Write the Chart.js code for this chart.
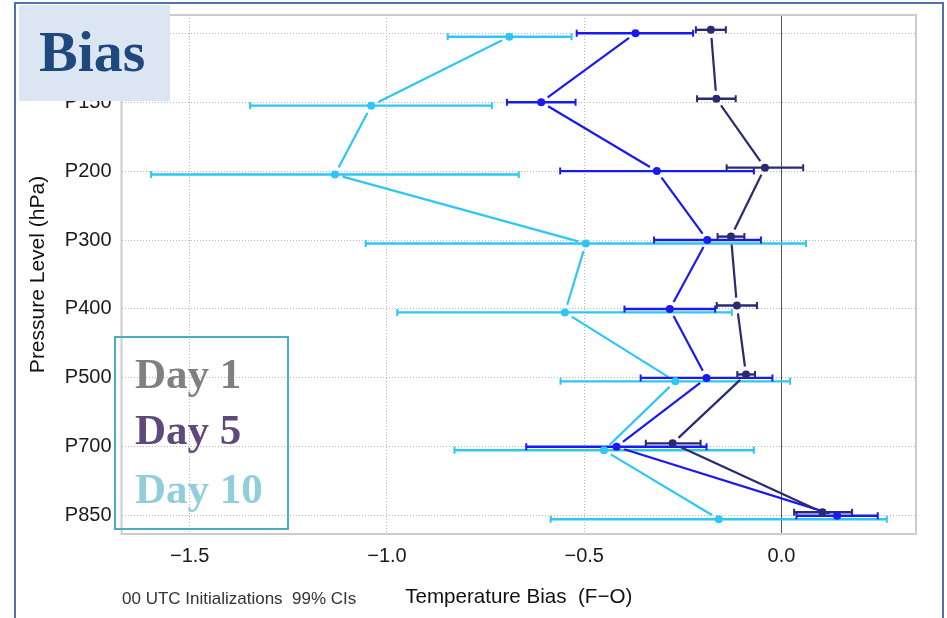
<!DOCTYPE html>
<html>
<head>
<meta charset="utf-8">
<script src="https://cdn.jsdelivr.net/npm/chart.js@4.4.1/dist/chart.umd.min.js"></script>
<style>
    html, body { margin: 0; padding: 0; background: #fff; overflow: hidden; }
    #biasChart { display: block; }
</style>
</head>
<body>
<canvas id="biasChart" width="947" height="618"></canvas>
<script>
// pressure levels (top to bottom)
const levels = ['P100', 'P150', 'P200', 'P300', 'P400', 'P500', 'P700', 'P850'];
const xTicks = [-1.5, -1.0, -0.5, 0.0];

// Day 1
const day1Bias = [-0.179, -0.165, -0.042, -0.128, -0.113, -0.090, -0.276, 0.104];
const day1Lo   = [-0.217, -0.214, -0.139, -0.162, -0.164, -0.112, -0.344, 0.032];
const day1Hi   = [-0.141, -0.116,  0.055, -0.094, -0.062, -0.067, -0.205, 0.179];

// Day 5
const day5Bias = [-0.370, -0.609, -0.316, -0.188, -0.283, -0.190, -0.418, 0.141];
const day5Lo   = [-0.519, -0.696, -0.561, -0.323, -0.398, -0.357, -0.647, 0.038];
const day5Hi   = [-0.224, -0.522, -0.070, -0.052, -0.168, -0.023, -0.190, 0.244];

// Day 10
const day10Bias = [-0.690, -1.040, -1.132, -0.496, -0.549, -0.269, -0.450, -0.159];
const day10Lo   = [-0.846, -1.347, -1.598, -1.054, -0.974, -0.560, -0.829, -0.585];
const day10Hi   = [-0.532, -0.734, -0.666,  0.062, -0.126,  0.022, -0.070,  0.267];

const legendNames = ['Day 1', 'Day 5', 'Day 10'];
const legendColors = ['#808080', '#5f497a', '#92cddc'];

const FONT = '"Liberation Sans", Arial, sans-serif';
const SERIF = '"Liberation Serif", "Times New Roman", serif';

// builds the points; small vertical dodge so the bars don't sit on top of each other
function makePoints(bias, lo, hi, dodge) {
    return bias.map((v, i) => ({ x: v, y: i + dodge, lo: lo[i], hi: hi[i] }));
}

const series = [
    { label: 'Day 10', color: '#2ec6f6', data: makePoints(day10Bias, day10Lo, day10Hi, 0.05) },
    { label: 'Day 5', color: '#1a1af0', data: makePoints(day5Bias, day5Lo, day5Hi, 0) },
    { label: 'Day 1', color: '#2a2a72', data: makePoints(day1Bias, day1Lo, day1Hi, -0.05) }
];

// error bars + connecting lines with a small gap at each point
const errorBarPlugin = {
    id: 'errorBars',
    beforeDatasetsDraw(chart) {
        const ctx = chart.ctx;
        const xs = chart.scales.x;
        const ys = chart.scales.y;
        const area = chart.chartArea;

        ctx.save();
        // zero line
        ctx.strokeStyle = '#555';
        ctx.lineWidth = 1;
        const x0 = Math.round(xs.getPixelForValue(0)) + 0.5;
        ctx.beginPath();
        ctx.moveTo(x0, area.top);
        ctx.lineTo(x0, area.bottom);
        ctx.stroke();

        ctx.lineCap = 'butt';
        series.forEach(s => {
            ctx.strokeStyle = s.color;
            const px = s.data.map(p => ({
                x: xs.getPixelForValue(p.x),
                y: ys.getPixelForValue(p.y),
                lo: xs.getPixelForValue(p.lo),
                hi: xs.getPixelForValue(p.hi)
            }));

            // connecting segments
            ctx.lineWidth = 2.2;
            for (let i = 0; i < px.length - 1; i++) {
                const a = px[i], b = px[i + 1];
                const dx = b.x - a.x, dy = b.y - a.y;
                const len = Math.sqrt(dx * dx + dy * dy);
                const gap = 8;
                if (len <= gap * 2) continue;
                const ux = dx / len, uy = dy / len;
                ctx.beginPath();
                ctx.moveTo(a.x + ux * gap, a.y + uy * gap);
                ctx.lineTo(b.x - ux * gap, b.y - uy * gap);
                ctx.stroke();
            }

            // horizontal bars with caps
            px.forEach(p => {
                ctx.lineWidth = 2.4;
                ctx.beginPath();
                ctx.moveTo(p.lo, p.y);
                ctx.lineTo(p.hi, p.y);
                ctx.stroke();
                ctx.lineWidth = 2;
                ctx.beginPath();
                ctx.moveTo(p.lo, p.y - 3.5);
                ctx.lineTo(p.lo, p.y + 3.5);
                ctx.moveTo(p.hi, p.y - 3.5);
                ctx.lineTo(p.hi, p.y + 3.5);
                ctx.stroke();
            });
        });
        ctx.restore();
    },
    afterDraw(chart) {
        const ctx = chart.ctx;
        const area = chart.chartArea;
        ctx.save();

        // plot frame
        ctx.strokeStyle = '#cccccc';
        ctx.lineWidth = 2;
        ctx.strokeRect(area.left, area.top, area.right - area.left, area.bottom - area.top);

        // "Bias" label box
        ctx.fillStyle = '#dce6f2';
        ctx.fillRect(19, 5, 151, 96);
        ctx.fillStyle = '#1f497d';
        ctx.font = 'bold 58px ' + SERIF;
        ctx.textAlign = 'left';
        ctx.textBaseline = 'alphabetic';
        ctx.fillText('Bias', 39, 71);

        // legend box
        ctx.strokeStyle = '#4bacc6';
        ctx.lineWidth = 2;
        ctx.strokeRect(115, 337, 173, 192);
        ctx.font = 'bold 43px ' + SERIF;
        const baselines = [388, 444, 503];
        legendNames.forEach((name, i) => {
            ctx.fillStyle = legendColors[i];
            ctx.fillText(name, 135, baselines[i]);
        });

        // footer note
        ctx.fillStyle = '#333';
        ctx.font = '17px ' + FONT;
        ctx.textBaseline = 'middle';
        ctx.fillText('00 UTC Initializations  99% CIs', 122, 599);

        // outer frame
        ctx.strokeStyle = '#4f72a8';
        ctx.lineWidth = 2;
        ctx.strokeRect(15, 3, 928, 700);
        ctx.restore();
    }
};

const ctx = document.getElementById('biasChart').getContext('2d');
const biasChart = new Chart(ctx, {
    type: 'scatter',
    data: {
        datasets: series.map((s, i) => ({
            label: s.label,
            data: s.data,
            showLine: false,
            pointRadius: 4,
            pointBackgroundColor: s.color,
            pointBorderColor: s.color,
            pointBorderWidth: 0,
            order: 3 - i
        }))
    },
    options: {
        responsive: false,
        animation: false,
        devicePixelRatio: 1,
        layout: { padding: { top: 15, right: 31, left: 0, bottom: 0 } },
        plugins: {
            legend: { display: false },
            tooltip: { enabled: false }
        },
        scales: {
            x: {
                type: 'linear',
                min: -1.673,
                max: 0.341,
                afterBuildTicks: function (scale) {
                    scale.ticks = xTicks.map(v => ({ value: v }));
                },
                afterFit: function (scale) {
                    scale.height = 84;
                    scale.paddingLeft = 0;
                    scale.paddingRight = 0;
                },
                ticks: {
                    padding: 10,
                    color: '#1a1a1a',
                    font: { family: FONT, size: 20 },
                    callback: function (v) {
                        return Number(v).toFixed(1).replace('-', '\u2212');
                    }
                },
                grid: { color: '#b5b5b5', lineWidth: 1, drawTicks: false },
                border: { display: false, dash: [1, 2] },
                title: {
                    display: true,
                    text: 'Temperature Bias  (F\u2212O)',
                    color: '#111',
                    font: { family: FONT, size: 20.6 },
                    padding: { top: 0, bottom: 8 }
                }
            },
            y: {
                type: 'linear',
                reverse: true,
                min: -0.265,
                max: 7.265,
                afterBuildTicks: function (scale) {
                    scale.ticks = levels.map((l, i) => ({ value: i }));
                },
                afterFit: function (scale) {
                    scale.width = 121.5;
                    scale.paddingTop = 0;
                    scale.paddingBottom = 0;
                },
                ticks: {
                    padding: 10,
                    color: '#1a1a1a',
                    font: { family: FONT, size: 20 },
                    callback: function (v) {
                        return levels[v] || '';
                    }
                },
                grid: { color: '#b5b5b5', lineWidth: 1, drawTicks: false },
                border: { display: false, dash: [1, 2] },
                title: {
                    display: true,
                    text: 'Pressure Level (hPa)',
                    color: '#111',
                    font: { family: FONT, size: 21 },
                    padding: { top: 26, bottom: 0 }
                }
            }
        }
    },
    plugins: [errorBarPlugin]
});
</script>
</body>
</html>
